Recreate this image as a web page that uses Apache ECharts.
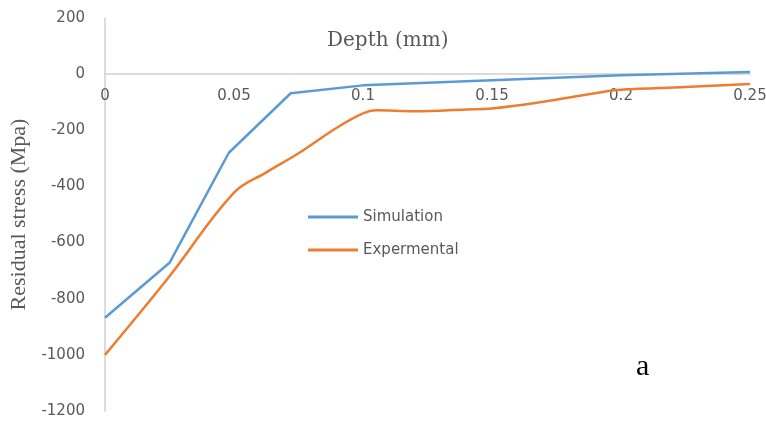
<!DOCTYPE html>
<html>
<head>
<meta charset="utf-8">
<title>Residual stress vs depth</title>
<script src="https://cdn.jsdelivr.net/npm/echarts@6/dist/echarts.min.js"></script>
<style>
  html, body { margin: 0; padding: 0; background: #ffffff; }
  #chart { width: 766px; height: 424px; }
</style>
</head>
<body>
<div id="chart"></div>
<script>
// Depth (mm) and residual stress (MPa) samples for each series
const simDepth = [0, 0.025, 0.048, 0.072, 0.1, 0.15, 0.2, 0.25];
const simStress = [-868, -672, -280, -68, -40, -22, -4, 8];

const expDepth = [0, 0.025, 0.05, 0.0625, 0.075, 0.09, 0.1, 0.105, 0.12, 0.14, 0.15, 0.17, 0.19, 0.2, 0.225, 0.25];
const expStress = [-1000, -720, -422, -350, -282, -190, -140, -129, -132, -126, -122, -98, -68, -56, -46, -35];

const seriesNames = ['Simulation', 'Expermental'];
const yTicks = { min: -1200, max: 200, step: 200 };
const xTicks = { min: 0, max: 0.25, step: 0.05 };

const pairs = (xs, ys) => xs.map((x, i) => [x, ys[i]]);

const labelColor = '#595959';
const tickFont = 'DejaVu Sans';

// plot box
const gridTop = 18, gridBottom = 13;
const plotHeight = 424 - gridTop - gridBottom;
// shift the depth axis up from the bottom edge to the zero-stress line
const zeroOffset = -plotHeight * (0 - yTicks.min) / (yTicks.max - yTicks.min);

const chart = echarts.init(document.getElementById('chart'), null, { renderer: 'canvas' });

chart.setOption({
  backgroundColor: '#ffffff',
  animation: false,
  title: {
    text: 'Depth (mm)',
    left: 327,
    top: 31,
    padding: 0,
    textStyle: {
      fontFamily: 'DejaVu Serif',
      fontSize: 20,
      fontWeight: 'normal',
      color: labelColor
    }
  },
  grid: { left: 105, right: 16, top: gridTop, bottom: gridBottom, outerBoundsMode: 'none' },
  legend: {
    orient: 'vertical',
    left: 308,
    top: 209,
    padding: 0,
    itemWidth: 50,
    itemHeight: 3,
    itemGap: 17,
    icon: 'rect',
    textStyle: {
      fontFamily: tickFont,
      fontSize: 15,
      lineHeight: 16,
      color: labelColor
    },
    data: seriesNames
  },
  xAxis: {
    type: 'value',
    position: 'bottom',
    offset: zeroOffset,
    min: xTicks.min,
    max: xTicks.max,
    interval: xTicks.step,
    axisLine: { onZero: false, lineStyle: { color: '#d0d0d0', width: 1.5 } },
    axisTick: { show: false },
    splitLine: { show: false },
    axisLabel: {
      margin: 14,
      fontFamily: tickFont,
      fontSize: 15,
      color: labelColor,
      formatter: (v) => String(v)
    }
  },
  yAxis: {
    type: 'value',
    min: yTicks.min,
    max: yTicks.max,
    interval: yTicks.step,
    name: 'Residual stress (Mpa)',
    nameLocation: 'middle',
    nameRotate: 90,
    nameGap: 72,
    nameTextStyle: {
      fontFamily: 'Liberation Serif',
      fontSize: 22,
      color: labelColor
    },
    axisLine: { show: true, lineStyle: { color: '#d0d0d0', width: 1.5 } },
    axisTick: { show: false },
    splitLine: { show: false },
    axisLabel: {
      margin: 20,
      fontFamily: tickFont,
      fontSize: 15,
      color: labelColor,
      formatter: (v) => String(v)
    }
  },
  graphic: [{
    type: 'text',
    left: 636,
    top: 352,
    style: {
      text: 'a',
      font: '30px "Liberation Serif"',
      fill: '#000000'
    }
  }],
  series: [
    {
      name: seriesNames[0],
      type: 'line',
      data: pairs(simDepth, simStress),
      showSymbol: false,
      symbol: 'none',
      smooth: false,
      lineStyle: { color: '#5B9BD5', width: 2.5 },
      itemStyle: { color: '#5B9BD5' }
    },
    {
      name: seriesNames[1],
      type: 'line',
      data: pairs(expDepth, expStress),
      showSymbol: false,
      symbol: 'none',
      smooth: 0.4,
      lineStyle: { color: '#ED7D31', width: 2.5 },
      itemStyle: { color: '#ED7D31' }
    }
  ]
});
</script>
</body>
</html>
